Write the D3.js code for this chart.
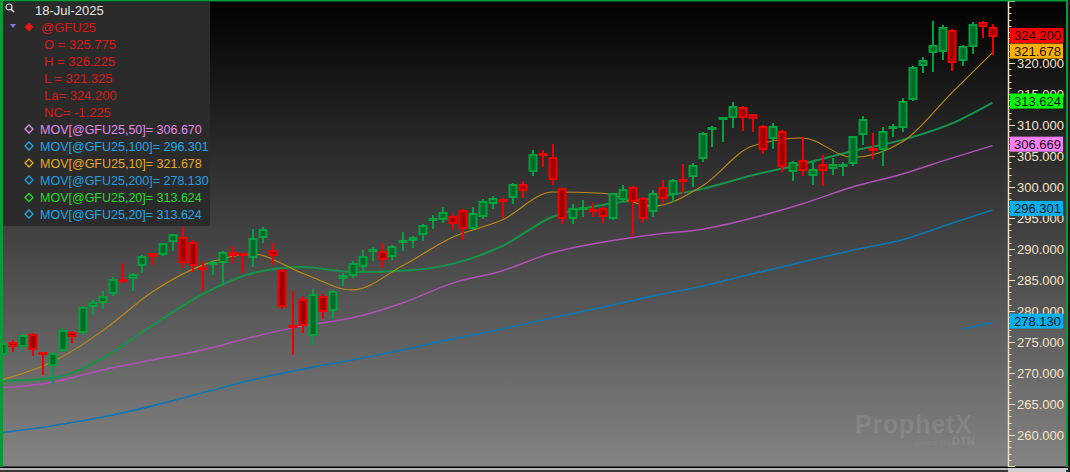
<!DOCTYPE html>
<html><head><meta charset="utf-8">
<script src="https://cdn.jsdelivr.net/npm/d3@7"></script>
<style>html,body{margin:0;padding:0;background:#000;overflow:hidden}svg{display:block}</style>
</head><body><svg id="c" width="1070" height="472"></svg>
<script>
// ---- data ----
const opens = [272.9,275.0,274.2,276.3,273.2,271.2,273.6,276.6,276.4,280.6,281.3,282.7,285.1,285.2,287.3,289.3,289.0,291.2,291.9,291.2,
286.9,287.6,287.7,289.5,289.3,288.5,291.7,289.8,286.6,277.6,281.9,275.9,282.4,280.0,285.2,285.7,287.1,289.6,289.7,288.7,
291.2,291.3,292.3,294.6,294.6,295.4,296.3,293.3,295.1,297.3,297.9,298.3,300.5,302.5,305.4,304.8,299.8,294.8,296.5,296.4,
296.6,294.8,297.9,300.0,298.3,295.9,300.0,298.7,301.1,301.6,304.5,309.3,310.9,311.1,312.9,311.7,309.9,307.7,309.1,302.5,
304.4,301.8,303.7,302.9,303.4,303.7,308.4,306.2,306.0,309.5,309.5,314.1,319.5,321.6,321.7,325.4,320.4,322.5,326.6,325.775];
const highs = [275.2,275.3,276.4,276.5,273.4,273.4,277.2,276.7,280.8,281.8,283.2,285.5,287.7,286.1,289.0,289.4,291.0,292.5,293.5,291.4,
288.0,288.2,289.6,290.5,289.4,293.3,293.5,291.0,286.8,283.2,282.4,283.6,282.7,283.4,286.1,288.0,289.8,290.4,290.9,290.6,
292.8,292.1,294.0,295.5,296.7,295.8,296.4,296.7,298.0,298.5,298.3,300.7,300.9,305.9,305.9,307.0,299.9,297.3,297.9,297.4,
296.7,299.1,300.3,300.2,298.4,299.5,301.1,301.3,303.7,303.8,308.8,309.8,311.2,313.7,313.0,311.8,310.0,310.3,309.2,304.2,
308.0,304.1,305.2,304.6,304.1,308.3,311.5,308.7,309.6,310.2,314.3,319.5,320.9,326.8,326.1,325.5,322.9,326.6,326.8,326.225];
const lows = [272.5,273.4,273.9,272.8,269.7,268.3,273.4,274.8,276.2,279.4,280.4,282.5,284.5,283.3,286.2,287.4,288.9,289.7,287.0,286.3,
283.3,285.8,284.2,287.8,286.2,287.1,291.0,287.4,280.3,272.9,276.4,274.5,278.7,278.7,284.0,285.4,286.3,288.0,287.0,288.3,
289.7,290.1,291.3,293.2,294.2,293.1,291.5,293.1,294.8,296.4,295.0,297.3,298.2,301.8,303.3,300.3,294.1,294.1,295.1,295.1,
294.2,294.6,297.6,291.9,294.2,295.2,297.4,297.6,298.9,300.0,304.1,306.5,307.3,309.5,309.1,308.8,305.4,306.2,302.5,300.9,
301.8,300.3,300.2,301.9,301.7,303.4,306.7,304.5,303.4,308.1,308.8,313.9,318.4,318.6,320.5,318.7,319.5,321.5,324.1,321.325];
const closes = [274.8,274.2,276.2,273.7,273.0,273.3,277.0,275.8,280.6,281.5,282.4,285.2,284.9,286.0,288.9,288.7,290.9,292.4,287.7,287.3,
286.7,287.8,289.5,288.8,288.9,291.7,293.3,288.8,280.6,277.4,277.5,282.7,279.9,283.3,285.8,287.7,288.8,289.8,288.3,290.5,
291.4,292.0,293.8,294.8,295.9,294.1,293.2,295.8,297.8,298.2,297.7,300.5,299.4,305.4,305.2,301.2,294.8,296.6,296.7,296.2,
295.2,299.0,299.6,297.6,294.8,299.1,298.1,301.2,300.9,303.5,308.7,309.5,311.1,313.0,311.1,310.9,306.0,309.9,303.3,304.1,
302.6,302.9,302.6,303.7,303.6,308.2,310.9,306.0,309.1,309.7,313.9,319.4,320.5,322.9,325.8,320.0,322.7,326.3,325.8,324.2];

const maIdx  = [0,5,10,15,20,25,30,35,40,45,50,55,60,65,70,75,80,85,90,95,99];
const ma10   = [268.9,271.8,276.8,283.1,287.4,289.2,286.1,283.4,287.3,291.9,294.7,299.2,299.0,296.9,300.2,306.6,307.9,304.8,307.3,315.3,321.678];
const ma20   = [268.7,269.2,272.4,277.7,282.7,286.1,287.1,286.3,286.5,287.6,290.5,295.2,297.1,298.2,299.7,301.9,303.7,305.8,307.6,310.3,313.624];
const ma50   = [267.6,268.5,270.5,272.1,273.7,275.8,277.6,278.9,281.3,284.5,286.5,289.4,291.1,292.3,293.2,295.0,297.3,300.0,302.1,304.7,306.67];
const ma100  = [260.4,261.5,262.9,264.7,266.8,268.9,270.6,272.1,273.7,275.5,277.1,278.9,280.6,282.4,284.0,286.0,287.9,289.8,291.5,294.2,296.301];
const ma200Idx = [96,97,98,99];
const ma200  = [277.1,277.45,277.8,278.13];

const yTicks = [260,265,270,275,280,285,290,295,300,305,310,315,320];
const tagValues = [296.301, 278.130, 306.669, 313.624, 321.678, 324.200];
const tagColors = ["#00b0f0","#00b0f0","#ff80ff","#00ff00","#ffb000","#ff0000"];

const dateText = "18-Jul-2025";
const symbol = "@GFU25";
const ohlcLabels = ["O = 325.775","H = 326.225","L = 321.325","La= 324.200","NC= -1.225"];
const maLabels = ["MOV[@GFU25,50]= 306.670","MOV[@GFU25,100]= 296.301","MOV[@GFU25,10]= 321.678","MOV[@GFU25,200]= 278.130","MOV[@GFU25,20]= 313.624","MOV[@GFU25,20]= 313.624"];
const maLabelColors = ["#e08cf0","#1aa8e8","#e8a820","#1aa0e0","#22dd22","#1aa8e8"];

// ---- drawing ----
const svg = d3.select("#c");
const W = 1070, H = 472;
const FONT = "'Liberation Sans', Arial, sans-serif";

const defs = svg.append("defs");
const g = defs.append("linearGradient").attr("id","bg").attr("x1",0).attr("y1",0).attr("x2",0).attr("y2",1);
g.append("stop").attr("offset","0%").attr("stop-color","#000000");
g.append("stop").attr("offset","100%").attr("stop-color","#848484");

svg.append("rect").attr("x",0).attr("y",0).attr("width",W).attr("height",467).attr("fill","url(#bg)");
// bottom strip
svg.append("rect").attr("x",0).attr("y",466.5).attr("width",W).attr("height",1.5).attr("fill","#000");
svg.append("rect").attr("x",0).attr("y",468).attr("width",W).attr("height",2).attr("fill","#b8b8b8");
svg.append("rect").attr("x",0).attr("y",470).attr("width",W).attr("height",2).attr("fill","#3a3a3a");
svg.append("rect").attr("x",1008).attr("y",468).attr("width",58).attr("height",4).attr("fill","#cfcfcf");

const x = d3.scaleLinear().domain([0,99]).range([2.5,992.5]);
const y = d3.scaleLinear().domain([260,320]).range([435,63]);

const plot = svg.append("g").attr("clip-path","url(#clipPlot)");
defs.append("clipPath").attr("id","clipPlot").append("rect").attr("x",3).attr("y",2).attr("width",1005).attr("height",464);

// watermark
const wm = svg.append("g");
wm.append("text").attr("x",855).attr("y",433).attr("font-family",FONT).attr("font-weight","bold")
  .attr("font-size",25).attr("letter-spacing",0.8).attr("fill","rgba(255,255,255,0.10)").text("ProphetX");
wm.append("text").attr("x",915).attr("y",445).attr("font-family",FONT).attr("font-size",7)
  .attr("fill","rgba(255,255,255,0.08)").text("powered by ");
wm.append("text").attr("x",952).attr("y",445).attr("font-family",FONT).attr("font-weight","bold").attr("font-size",11)
  .attr("fill","rgba(255,255,255,0.10)").text("DTN");

// moving averages
const line = d3.line().curve(d3.curveMonotoneX);
function maPts(idx, vals){ return idx.map((d,i)=>[x(d), y(vals[i])]); }
plot.append("path").attr("d", line(maPts(maIdx, ma100))).attr("fill","none").attr("stroke","#0a78b4").attr("stroke-width",1.6);
plot.append("path").attr("d", line(maPts(ma200Idx, ma200))).attr("fill","none").attr("stroke","#0a78b4").attr("stroke-width",1.6);
plot.append("path").attr("d", line(maPts(maIdx, ma50))).attr("fill","none").attr("stroke","#b050b8").attr("stroke-width",1.5);
plot.append("path").attr("d", line(maPts(maIdx, ma20))).attr("fill","none").attr("stroke","#12a012").attr("stroke-width",2);
plot.append("path").attr("d", line(maPts(maIdx, ma20))).attr("fill","none").attr("stroke","#1878c8").attr("stroke-width",1.2).attr("stroke-dasharray","1.5,1.5");
plot.append("path").attr("d", line(maPts(maIdx, ma10))).attr("fill","none").attr("stroke","#c08a10").attr("stroke-width",1.1);

// candles
const candles = d3.range(opens.length).map(i=>({i,o:opens[i],h:highs[i],l:lows[i],c:closes[i]}));
const cg = plot.append("g").selectAll("g").data(candles).join("g");
const bright = d => d.c >= d.o ? "#00a23e" : "#f00000";
const dark = d => d.c >= d.o ? "#006a28" : "#a00000";
cg.append("rect").attr("x", d=>Math.round(x(d.i))-1).attr("width",2)
  .attr("y", d=>Math.round(y(d.h))).attr("height", d=>Math.max(1,Math.round(y(d.l))-Math.round(y(d.h))))
  .attr("fill", bright);
cg.each(function(d){
  const top = Math.round(y(Math.max(d.o,d.c)));
  let bot = Math.round(y(Math.min(d.o,d.c)));
  const sel = d3.select(this);
  const bx = Math.round(x(d.i)) - 4.5;
  if (bot - top < 3) {
    const mid = (top+bot)/2;
    sel.append("rect").attr("x",bx).attr("width",9).attr("y",Math.round(mid-1.5)).attr("height",3).attr("fill",bright(d));
  } else {
    sel.append("rect").attr("x",bx).attr("width",9).attr("y",top).attr("height",bot-top).attr("fill",bright(d));
    if (bot - top > 4) sel.append("rect").attr("x",bx+2).attr("width",5).attr("y",top+2).attr("height",bot-top-4).attr("fill",dark(d));
  }
});

// legend box
const lg = svg.append("g");
lg.append("rect").attr("x",3).attr("y",2).attr("width",207).attr("height",224).attr("fill","#2b2b2b");
// magnifier icon
lg.append("circle").attr("cx",9).attr("cy",7).attr("r",3).attr("fill","none").attr("stroke","#e8e8e8").attr("stroke-width",1.2);
lg.append("line").attr("x1",11).attr("y1",9).attr("x2",14).attr("y2",12).attr("stroke","#e8e8e8").attr("stroke-width",1.5);
lg.append("text").attr("x",35).attr("y",15).attr("font-family",FONT).attr("font-size",13).attr("fill","#e6e6e6").text(dateText);
lg.append("path").attr("d","M10,24 L16,24 L13,28 Z").attr("fill","#7a7ae8");
lg.append("path").attr("d","M29,22.5 L33.5,27 L29,31.5 L24.5,27 Z").attr("fill","#e81414");
lg.append("text").attr("x",41).attr("y",31.5).attr("font-family",FONT).attr("font-size",13).attr("fill","#dd1818").text(symbol);
lg.selectAll("text.ohlc").data(ohlcLabels).join("text").attr("class","ohlc")
  .attr("x",44).attr("y",(d,i)=>49+i*17).attr("font-family",FONT).attr("font-size",13).attr("fill","#dd1818").text(d=>d);
const ml = lg.selectAll("g.ma").data(maLabels).join("g").attr("class","ma")
  .attr("transform",(d,i)=>`translate(0,${[129,146,163,180,197.5,214][i]})`);
ml.append("path").attr("d","M29,-4 L33,0 L29,4 L25,0 Z").attr("fill","none")
  .attr("stroke",(d,i)=>maLabelColors[i]).attr("stroke-width",1.3);
ml.append("text").attr("x",40).attr("y",4.5).attr("font-family",FONT).attr("font-size",12.5)
  .attr("fill",(d,i)=>maLabelColors[i]).text(d=>d);

// right axis
const ax = svg.append("g").attr("transform","translate(1008,0)");
const minor = d3.range(255,331);
ax.selectAll("line.minor").data(minor).join("line").attr("class","minor")
  .attr("x1",0).attr("x2",d=>d%5===0?7:3.5).attr("y1",d=>Math.round(y(d))+0.5).attr("y2",d=>Math.round(y(d))+0.5)
  .attr("stroke","#f2e2c4").attr("stroke-width",1);
const axis = d3.axisRight(y).tickValues(yTicks).tickFormat(d3.format(".3f")).tickSize(0).tickPadding(9);
const axG = ax.append("g").call(axis);
axG.select(".domain").remove();
axG.selectAll("text").attr("font-family",FONT).attr("font-size",13).attr("fill","#f4e4c6");
ax.append("line").attr("x1",0.5).attr("x2",0.5).attr("y1",0).attr("y2",467).attr("stroke","#f2e2c4").attr("stroke-width",1.5);

// value tags
const tags = svg.append("g").selectAll("g").data(tagValues).join("g")
  .attr("transform", d=>`translate(1010,${y(d)-9})`);
tags.append("rect").attr("width",53).attr("height",15).attr("fill",(d,i)=>tagColors[i]);
tags.append("text").attr("x",4).attr("y",12).attr("font-family",FONT).attr("font-size",13).attr("fill","#111")
  .text(d=>d3.format(".3f")(d));

// border
svg.append("rect").attr("x",0).attr("y",0).attr("width",3).attr("height",467).attr("fill","#0a9a3a");
svg.append("rect").attr("x",0).attr("y",0).attr("width",1068).attr("height",1.5).attr("fill","#0a9a3a");
svg.append("rect").attr("x",1066).attr("y",0).attr("width",2).attr("height",467).attr("fill","#0a9a3a");
svg.append("rect").attr("x",1068).attr("y",0).attr("width",2).attr("height",472).attr("fill","#1a1a1a");
</script></body></html>
